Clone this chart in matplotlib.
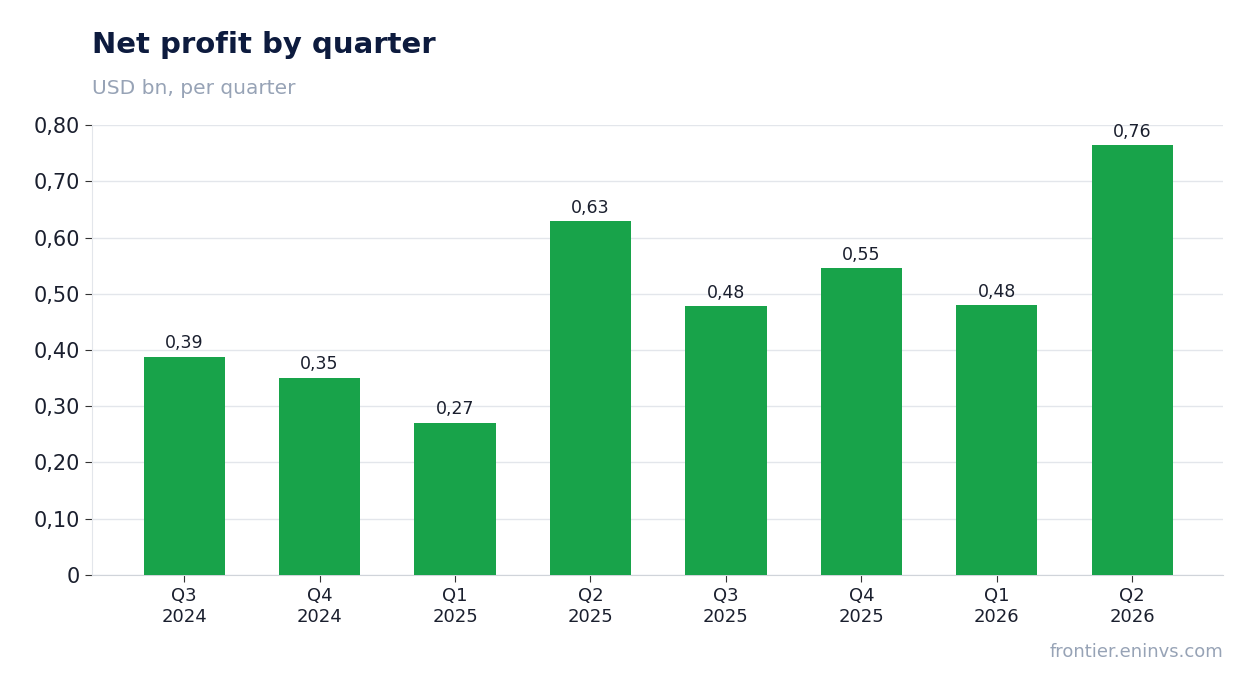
import matplotlib.pyplot as plt
from matplotlib.ticker import FuncFormatter

quarters = ['Q3\n2024', 'Q4\n2024', 'Q1\n2025', 'Q2\n2025', 'Q3\n2025', 'Q4\n2025', 'Q1\n2026', 'Q2\n2026']
profit = [0.388, 0.351, 0.271, 0.629, 0.478, 0.545, 0.480, 0.764]

fig = plt.figure(figsize=(12.54, 6.93), dpi=100)
ax = fig.add_axes([0.0734, 0.1703, 0.9019, 0.6493])

x = range(len(quarters))
ax.bar(x, profit, width=0.6, color='#18a34a', zorder=3)
for i, v in enumerate(profit):
    ax.text(i, v + 0.008, f"{v:.2f}".replace('.', ','), ha='center', va='bottom',
            fontsize=12.5, color='#1a1f2e')

ax.set_xlim(-0.68, 7.67)
ax.set_ylim(0, 0.80)
ax.set_yticks([i / 10 for i in range(9)])
ax.yaxis.set_major_formatter(FuncFormatter(lambda v, p: '0' if v == 0 else f"{v:.2f}".replace('.', ',')))
ax.set_xticks(list(x))
ax.set_xticklabels(quarters, fontsize=13, color='#1a1f2e')
ax.tick_params(axis='y', labelsize=15, labelcolor='#1a1f2e', length=5, color='#333333')
ax.tick_params(axis='x', length=5, color='#333333')
ax.grid(axis='y', color='#e3e6eb', linewidth=1, zorder=0)
for s in ['top', 'right']:
    ax.spines[s].set_visible(False)
ax.spines['left'].set_color('#e3e6eb')
ax.spines['bottom'].set_color('#d0d4da')

fig.text(0.0734, 0.935, 'Net profit by quarter', fontsize=21, fontweight='bold', color='#0d1b3e', va='center')
fig.text(0.0734, 0.873, 'USD bn, per quarter', fontsize=14.5, color='#97a3b6', va='center')
fig.text(0.9753, 0.059, 'frontier.eninvs.com', fontsize=13, color='#97a3b6', ha='right', va='center')

fig.savefig('out.png', dpi=100)
